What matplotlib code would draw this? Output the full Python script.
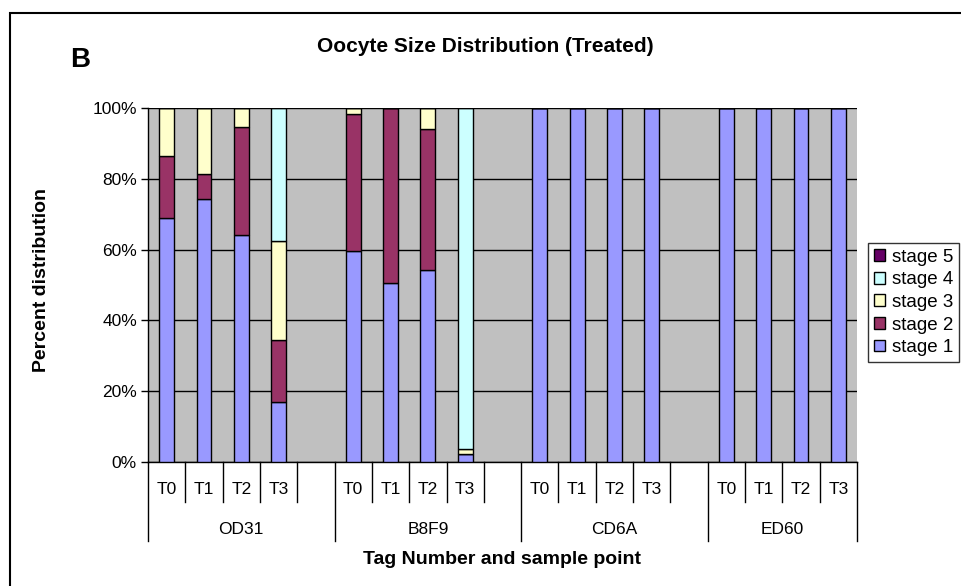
import matplotlib
matplotlib.use("Agg")
import matplotlib.pyplot as plt
from matplotlib.patches import Patch, Rectangle
import matplotlib.transforms as mtransforms

plt.rcParams['font.family'] = ['Liberation Sans', 'DejaVu Sans']

groups = ['OD31', 'B8F9', 'CD6A', 'ED60']
samples = ['T0', 'T1', 'T2', 'T3']
stages = ['stage 1', 'stage 2', 'stage 3', 'stage 4', 'stage 5']
colors = ['#9999FF', '#993366', '#FFFFCC', '#CCFFFF', '#660066']

# percent per stage, 16 bars: OD31 T0..T3, B8F9 T0..T3, CD6A T0..T3, ED60 T0..T3
stage1 = [68.8, 74.3, 64.0, 17.0, 59.6, 50.7, 54.1, 2.4] + [100] * 8
stage2 = [17.6, 7.1, 30.7, 17.5, 38.7, 49.3, 39.9, 0.0] + [0] * 8
stage3 = [13.6, 18.6, 5.3, 27.9, 1.7, 0.0, 6.0, 1.2] + [0] * 8
stage4 = [0.0, 0.0, 0.0, 37.6, 0.0, 0.0, 0.0, 96.4] + [0] * 8
stage5 = [0] * 16
series = [stage1, stage2, stage3, stage4, stage5]

fig = plt.figure(figsize=(9.61, 5.86), dpi=100)
W, H = 961, 586
ax = fig.add_axes([148 / W, (H - 462) / H, (857 - 148) / W, (462 - 108) / H])
ax.set_facecolor('#C0C0C0')

xs = []
for g in range(len(groups)):
    for i in range(len(samples)):
        xs.append(g * 5 + i)

bottom = [0] * len(xs)
for vals, c in zip(series, colors):
    ax.bar(xs, vals, width=0.4, bottom=bottom, color=c, edgecolor='black', linewidth=1, zorder=3)
    bottom = [b + v for b, v in zip(bottom, vals)]

ax.set_xlim(-0.5, 18.5)
ax.set_ylim(0, 100)
ax.set_yticks([0, 20, 40, 60, 80, 100])
ax.set_yticklabels(['0%', '20%', '40%', '60%', '80%', '100%'], fontsize=12.5)
ax.yaxis.grid(True, color='black', linewidth=1, zorder=1)
ax.set_axisbelow(True)
ax.tick_params(axis='y', direction='out', length=5, width=1, pad=3)
ax.set_xticks([])
for s in ['top', 'right']:
    ax.spines[s].set_visible(False)
ax.spines['left'].set_linewidth(1)
ax.spines['bottom'].set_linewidth(1)

# category axis separators and labels
trans = mtransforms.blended_transform_factory(ax.transData, ax.transAxes)
group_edges = [-0.5, 4.5, 9.5, 14.5, 18.5]
for k in range(20):
    x = k - 0.5
    if x in group_edges:
        ax.plot([x, x], [0, -0.223], color='black', lw=1, transform=trans, clip_on=False)
    else:
        ax.plot([x, x], [0, -0.113], color='black', lw=1, transform=trans, clip_on=False)
for g in range(len(groups)):
    for i, s in enumerate(samples):
        ax.text(g * 5 + i, -0.079, s, transform=trans, ha='center', va='center', fontsize=12.5)
for g, name in enumerate(groups):
    lo, hi = group_edges[g], group_edges[g + 1]
    ax.text((lo + hi) / 2, -0.19, name, transform=trans, ha='center', va='center', fontsize=12.5)

fig.text(502 / W, 1 - 560 / H, 'Tag Number and sample point', ha='center', va='center',
         fontsize=14, fontweight='bold')
fig.text(42 / W, 1 - 280 / H, 'Percent distribution', ha='center', va='center',
         rotation=90, fontsize=14, fontweight='bold')
fig.text(485 / W, 1 - 47 / H, 'Oocyte Size Distribution (Treated)', ha='center', va='center',
         fontsize=15, fontweight='bold')
fig.text(80 / W, 1 - 60 / H, 'B', ha='center', va='center', fontsize=20, fontweight='bold')

handles = [Patch(facecolor=c, edgecolor='black', linewidth=1, label=l)
           for c, l in zip(colors, stages)][::-1]
leg = fig.legend(handles=handles, loc='upper left', bbox_to_anchor=(868 / W, 1 - 243 / H),
                 fontsize=13.5, frameon=True, fancybox=False, borderaxespad=0,
                 handlelength=0.6, handleheight=0.6, handletextpad=0.4,
                 labelspacing=0.3, borderpad=0.3)
leg.get_frame().set_edgecolor('black')
leg.get_frame().set_linewidth(1)

fig.patches.append(Rectangle((10 / W, -0.05), 1.1, 1.05 - 13 / H, transform=fig.transFigure,
                             fill=False, edgecolor='black', linewidth=1.5))

fig.savefig('out.png', dpi=100)
